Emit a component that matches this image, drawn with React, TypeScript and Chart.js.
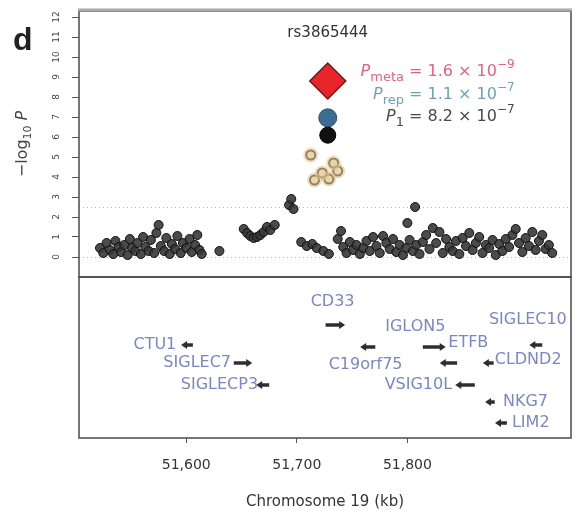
import { useEffect, useRef } from 'react';
import { Chart, registerables } from 'chart.js';

Chart.register(...registerables);

// ---------- axes ----------
const xTickKb = [51600, 51700, 51800];
const xRangeKb = [51503, 51948];
const yTickValues = [0, 1, 2, 3, 4, 5, 6, 7, 8, 9, 10, 11, 12];
const yRange = [-9.05, 12.3];
const panelDivide = -1.0;
const refLines = [0, 2.5];

// ---------- SNPs (kb, -log10 P) ----------
const snpKb = [
  51522, 51525, 51528, 51531, 51534, 51536, 51539, 51541, 51544, 51547, 51549, 51551, 51554, 51556,
  51559, 51561, 51563, 51566, 51568, 51571, 51573, 51575, 51577, 51580, 51582, 51585, 51587, 51590,
  51592, 51595, 51597, 51600, 51603, 51605, 51608, 51610, 51612, 51614,
  51630,
  51652, 51655, 51658, 51661, 51664, 51667, 51670, 51673, 51676, 51680,
  51693, 51695, 51697,
  51704, 51709, 51714, 51718, 51724, 51729,
  51737, 51740, 51742, 51745, 51748, 51751, 51754, 51757, 51760, 51763, 51766, 51769, 51772, 51775,
  51778, 51781, 51784, 51787, 51790, 51793, 51796, 51799, 51802, 51805,
  51800, 51807,
  51808, 51811, 51814, 51817, 51820, 51823, 51826, 51829, 51832, 51835, 51838, 51841, 51844, 51847,
  51850, 51853, 51856, 51859, 51862, 51865, 51868, 51871, 51874, 51877, 51880, 51883, 51886, 51889,
  51892, 51895, 51898, 51901, 51904, 51907, 51910, 51913, 51916, 51919, 51922, 51925, 51928, 51931,
];
const snpLogP = [
  0.45, 0.2, 0.7, 0.35, 0.15, 0.8, 0.5, 0.25, 0.6, 0.1, 0.9, 0.45, 0.3, 0.7,
  0.15, 1.0, 0.5, 0.3, 0.85, 0.2, 1.2, 1.6, 0.55, 0.3, 0.95, 0.15, 0.65, 0.4,
  1.05, 0.2, 0.7, 0.45, 0.9, 0.25, 0.6, 1.1, 0.35, 0.15,
  0.3,
  1.4, 1.2, 1.05, 0.95, 1.0, 1.1, 1.25, 1.5, 1.35, 1.6,
  2.6, 2.9, 2.4,
  0.75, 0.55, 0.65, 0.45, 0.3, 0.15,
  0.9, 1.3, 0.5, 0.2, 0.75, 0.35, 0.6, 0.15, 0.45, 0.8, 0.3, 1.0, 0.55, 0.2,
  1.05, 0.7, 0.4, 0.9, 0.25, 0.6, 0.1, 0.45, 0.85, 0.3,
  1.7, 2.5,
  0.6, 0.15, 0.75, 1.1, 0.4, 1.45, 0.7, 1.25, 0.2, 0.9, 0.5, 0.3, 0.8, 0.15,
  0.95, 0.55, 1.2, 0.35, 0.7, 1.0, 0.2, 0.6, 0.45, 0.85, 0.1, 0.65, 0.3, 0.9,
  0.5, 1.1, 1.4, 0.7, 0.25, 0.95, 0.55, 1.25, 0.35, 0.8, 1.1, 0.4, 0.6, 0.2,
];
const ldSnpKb = [51712.6, 51733.3, 51723.0, 51716.0, 51737.0, 51729.0];
const ldSnpLogP = [5.1, 4.7, 4.2, 3.85, 4.3, 3.9];

// ---------- lead SNP ----------
const leadSnp = 'rs3865444';
const leadKb = 51728;
const leadLogP = [8.8, 6.96, 6.09]; // meta, replication, stage 1
const pLabelSub = ['meta', 'rep', '1'];
const pLabelMant = ['1.6', '1.1', '8.2'];
const pLabelExp = ['−9', '−7', '−7'];
const pLabelColor = ['#e5637f', '#6e9fb9', '#4a4a4a'];

// ---------- genes ----------
const geneNames = ['CTU1', 'SIGLEC7', 'SIGLECP3', 'CD33', 'C19orf75', 'IGLON5', 'ETFB', 'VSIG10L', 'SIGLEC10', 'CLDND2', 'NKG7', 'LIM2'];
const geneStartKb = [51598, 51643, 51666, 51726, 51760, 51814, 51832, 51846, 51913, 51871, 51873, 51882];
const geneEndKb = [51606, 51657, 51675, 51741, 51771, 51832, 51845, 51861, 51922, 51878, 51879, 51890];
const geneRow = [-4.4, -5.3, -6.4, -3.4, -4.5, -4.5, -5.3, -6.4, -4.4, -5.3, -7.25, -8.3];
const geneStrand = [-1, 1, -1, 1, -1, 1, -1, -1, -1, -1, -1, -1];
const geneLabelKb = [51591, 51640.5, 51665, 51732.4, 51762.2, 51807.2, 51837, 51840.5, 51909, 51879, 51886.5, 51894.6];
const geneLabelRow = [-4.4, -5.3, -6.4, -2.25, -5.4, -3.5, -4.3, -6.4, -3.15, -5.15, -7.25, -8.3];
const geneLabelAlign = ['right', 'right', 'right', 'center', 'center', 'center', 'left', 'right', 'center', 'left', 'left', 'left'];

const FONT = '"DejaVu Sans", sans-serif';

const decorPlugin = {
  id: 'decor',
  beforeDatasetsDraw(chart: any) {
    const { ctx, chartArea, scales } = chart;
    const ys = scales.y;
    ctx.save();
    ctx.strokeStyle = '#b5b5b5';
    ctx.lineWidth = 1;
    ctx.setLineDash([1, 3]);
    refLines.forEach((v) => {
      const py = Math.round(ys.getPixelForValue(v)) + 0.5;
      ctx.beginPath();
      ctx.moveTo(chartArea.left, py);
      ctx.lineTo(chartArea.right, py);
      ctx.stroke();
    });
    ctx.restore();
  },
  afterDatasetsDraw(chart: any) {
    const { ctx, scales } = chart;
    const xs = scales.x;
    const ys = scales.y;
    ctx.save();
    // genes
    geneNames.forEach((name, i) => {
      const x1 = xs.getPixelForValue(geneStartKb[i]);
      const x2 = xs.getPixelForValue(geneEndKb[i]);
      const py = ys.getPixelForValue(geneRow[i]);
      ctx.strokeStyle = '#2e2e2e';
      ctx.fillStyle = '#2e2e2e';
      ctx.lineWidth = 3.5;
      ctx.beginPath();
      ctx.moveTo(x1, py);
      ctx.lineTo(x2, py);
      ctx.stroke();
      const tip = geneStrand[i] > 0 ? x2 + 3 : x1 - 3;
      const base = geneStrand[i] > 0 ? x2 - 3 : x1 + 3;
      ctx.beginPath();
      ctx.moveTo(tip, py);
      ctx.lineTo(base, py - 4);
      ctx.lineTo(base, py + 4);
      ctx.closePath();
      ctx.fill();
      ctx.fillStyle = '#7b87c4';
      ctx.font = `16px ${FONT}`;
      ctx.textAlign = geneLabelAlign[i] as CanvasTextAlign;
      ctx.textBaseline = 'middle';
      ctx.fillText(name, xs.getPixelForValue(geneLabelKb[i]), ys.getPixelForValue(geneLabelRow[i]));
    });
    // lead SNP name
    ctx.fillStyle = '#333';
    ctx.font = `15px ${FONT}`;
    ctx.textAlign = 'center';
    ctx.textBaseline = 'middle';
    ctx.fillText(leadSnp, xs.getPixelForValue(leadKb), ys.getPixelForValue(11.2));
    // P-value labels
    const rightX = xs.getPixelForValue(51897);
    const rowsY = [9.25, 8.1, 7.0];
    pLabelSub.forEach((sub, i) => {
      const py = ys.getPixelForValue(rowsY[i]);
      const main = ` = ${pLabelMant[i]} × 10`;
      const fMain = `16px ${FONT}`;
      const fP = `italic 16px ${FONT}`;
      const fSub = `13px ${FONT}`;
      const fSup = `12px ${FONT}`;
      ctx.font = fP;
      const wP = ctx.measureText('P').width;
      ctx.font = fSub;
      const wSub = ctx.measureText(sub).width;
      ctx.font = fSup;
      const wExp = ctx.measureText(pLabelExp[i]).width;
      ctx.font = fMain;
      const wMain = ctx.measureText(main).width;
      let x = rightX - (wP + wSub + wMain + wExp);
      ctx.fillStyle = pLabelColor[i];
      ctx.textAlign = 'left';
      ctx.textBaseline = 'middle';
      ctx.font = fP;
      ctx.fillText('P', x, py);
      x += wP;
      ctx.font = fSub;
      ctx.fillText(sub, x, py + 6);
      x += wSub;
      ctx.font = fMain;
      ctx.fillText(main, x, py);
      x += wMain;
      ctx.font = fSup;
      ctx.fillText(pLabelExp[i], x, py - 7);
    });
    ctx.restore();
  },
  afterDraw(chart: any) {
    const { ctx, chartArea, scales } = chart;
    const ys = scales.y;
    const { left, right, top, bottom } = chartArea;
    const mid = ys.getPixelForValue(panelDivide);
    ctx.save();
    ctx.strokeStyle = '#4a4a4a';
    ctx.lineWidth = 1.5;
    ctx.strokeRect(left, top, right - left, mid - top);
    ctx.strokeRect(left, mid, right - left, bottom - mid);
    ctx.strokeStyle = '#a8a8a8';
    ctx.lineWidth = 3;
    ctx.beginPath();
    ctx.moveTo(left - 1, top - 1);
    ctx.lineTo(right + 1, top - 1);
    ctx.stroke();
    // panel letter
    ctx.fillStyle = '#222';
    ctx.font = `bold 32px "Liberation Sans", Arial, sans-serif`;
    ctx.textAlign = 'left';
    ctx.textBaseline = 'alphabetic';
    ctx.fillText('d', 13, 50);
    // y axis title
    const cy = (ys.getPixelForValue(yRange[1]) + mid) / 2;
    ctx.translate(23, cy);
    ctx.rotate(-Math.PI / 2);
    ctx.fillStyle = '#444';
    ctx.textBaseline = 'middle';
    const fN = `16px ${FONT}`;
    const fS = `11px ${FONT}`;
    const fI = `italic 16px ${FONT}`;
    ctx.font = fN;
    const w1 = ctx.measureText('−log').width;
    ctx.font = fS;
    const w2 = ctx.measureText('10').width;
    ctx.font = fI;
    const w3 = ctx.measureText(' P').width;
    let x = -(w1 + w2 + w3) / 2;
    ctx.font = fN;
    ctx.fillText('−log', x, 0);
    x += w1;
    ctx.font = fS;
    ctx.fillText('10', x, 5);
    x += w2;
    ctx.font = fI;
    ctx.fillText(' P', x, 0);
    ctx.restore();
  },
};

const zeroPad = (s: any) => {
  s.paddingTop = 0;
  s.paddingBottom = 0;
  s.paddingLeft = 0;
  s.paddingRight = 0;
};

export default function App() {
  const ref = useRef<HTMLCanvasElement>(null);
  useEffect(() => {
    if (!ref.current) return;
    const chart = new Chart(ref.current, {
      type: 'scatter',
      data: {
        datasets: [
          {
            label: 'all',
            data: snpKb.map((x, i) => ({ x, y: snpLogP[i] })),
            pointRadius: 4.5,
            backgroundColor: 'rgba(55,55,55,0.9)',
            borderColor: '#111',
            borderWidth: 1,
          },
          {
            label: 'ld halo',
            data: ldSnpKb.map((x, i) => ({ x, y: ldSnpLogP[i] })),
            pointRadius: 7.5,
            backgroundColor: 'rgba(226,196,140,0.55)',
            borderWidth: 0,
          },
          {
            label: 'ld',
            data: ldSnpKb.map((x, i) => ({ x, y: ldSnpLogP[i] })),
            pointRadius: 4.5,
            backgroundColor: '#f4ead0',
            borderColor: '#333',
            borderWidth: 2,
          },
          {
            label: 'stage1',
            data: [{ x: leadKb, y: leadLogP[2] }],
            pointRadius: 8,
            backgroundColor: '#111',
            borderColor: '#000',
            borderWidth: 1,
          },
          {
            label: 'rep',
            data: [{ x: leadKb, y: leadLogP[1] }],
            pointRadius: 9,
            backgroundColor: '#3b6d93',
            borderColor: '#2a4d68',
            borderWidth: 1,
          },
          {
            label: 'meta',
            data: [{ x: leadKb, y: leadLogP[0] }],
            pointStyle: 'rectRot',
            pointRadius: 18,
            backgroundColor: '#e8252b',
            borderColor: '#6b1b1b',
            borderWidth: 1.5,
          },
        ],
      },
      options: {
        animation: false,
        responsive: false,
        events: [],
        layout: { autoPadding: false, padding: { top: 11, right: 6, left: 0, bottom: 0 } },
        plugins: { legend: { display: false }, tooltip: { enabled: false } },
        scales: {
          x: {
            type: 'linear',
            min: xRangeKb[0],
            max: xRangeKb[1],
            afterBuildTicks: (s: any) => {
              s.ticks = xTickKb.map((v) => ({ value: v }));
            },
            afterFit: (s: any) => {
              s.height = 78;
              zeroPad(s);
            },
            border: { display: false },
            grid: { drawOnChartArea: false, drawTicks: true, tickLength: 5, color: '#555' },
            ticks: {
              color: '#333',
              font: { family: FONT, size: 14 },
              padding: 14,
              maxRotation: 0,
              callback: (v: any) => Number(v).toLocaleString('en-US'),
            },
            title: {
              display: true,
              text: 'Chromosome 19 (kb)',
              color: '#333',
              font: { family: FONT, size: 15 },
              padding: { top: 0, bottom: 5 },
            },
          },
          y: {
            type: 'linear',
            min: yRange[0],
            max: yRange[1],
            afterBuildTicks: (s: any) => {
              s.ticks = yTickValues.map((v) => ({ value: v }));
            },
            afterFit: (s: any) => {
              s.width = 79;
              zeroPad(s);
            },
            border: { display: false },
            grid: { drawOnChartArea: false, drawTicks: true, tickLength: 7, color: '#555' },
            ticks: {
              color: '#444',
              font: { family: FONT, size: 9 },
              minRotation: 90,
              maxRotation: 90,
              crossAlign: 'center',
              padding: 10,
            },
          },
        },
      },
      plugins: [decorPlugin],
    } as any);
    return () => chart.destroy();
  }, []);
  return (
    <div style={{ position: 'fixed', left: 0, top: 0, width: 577, height: 516, background: '#fff' }}>
      <canvas ref={ref} width={577} height={516} style={{ display: 'block' }} />
    </div>
  );
}
